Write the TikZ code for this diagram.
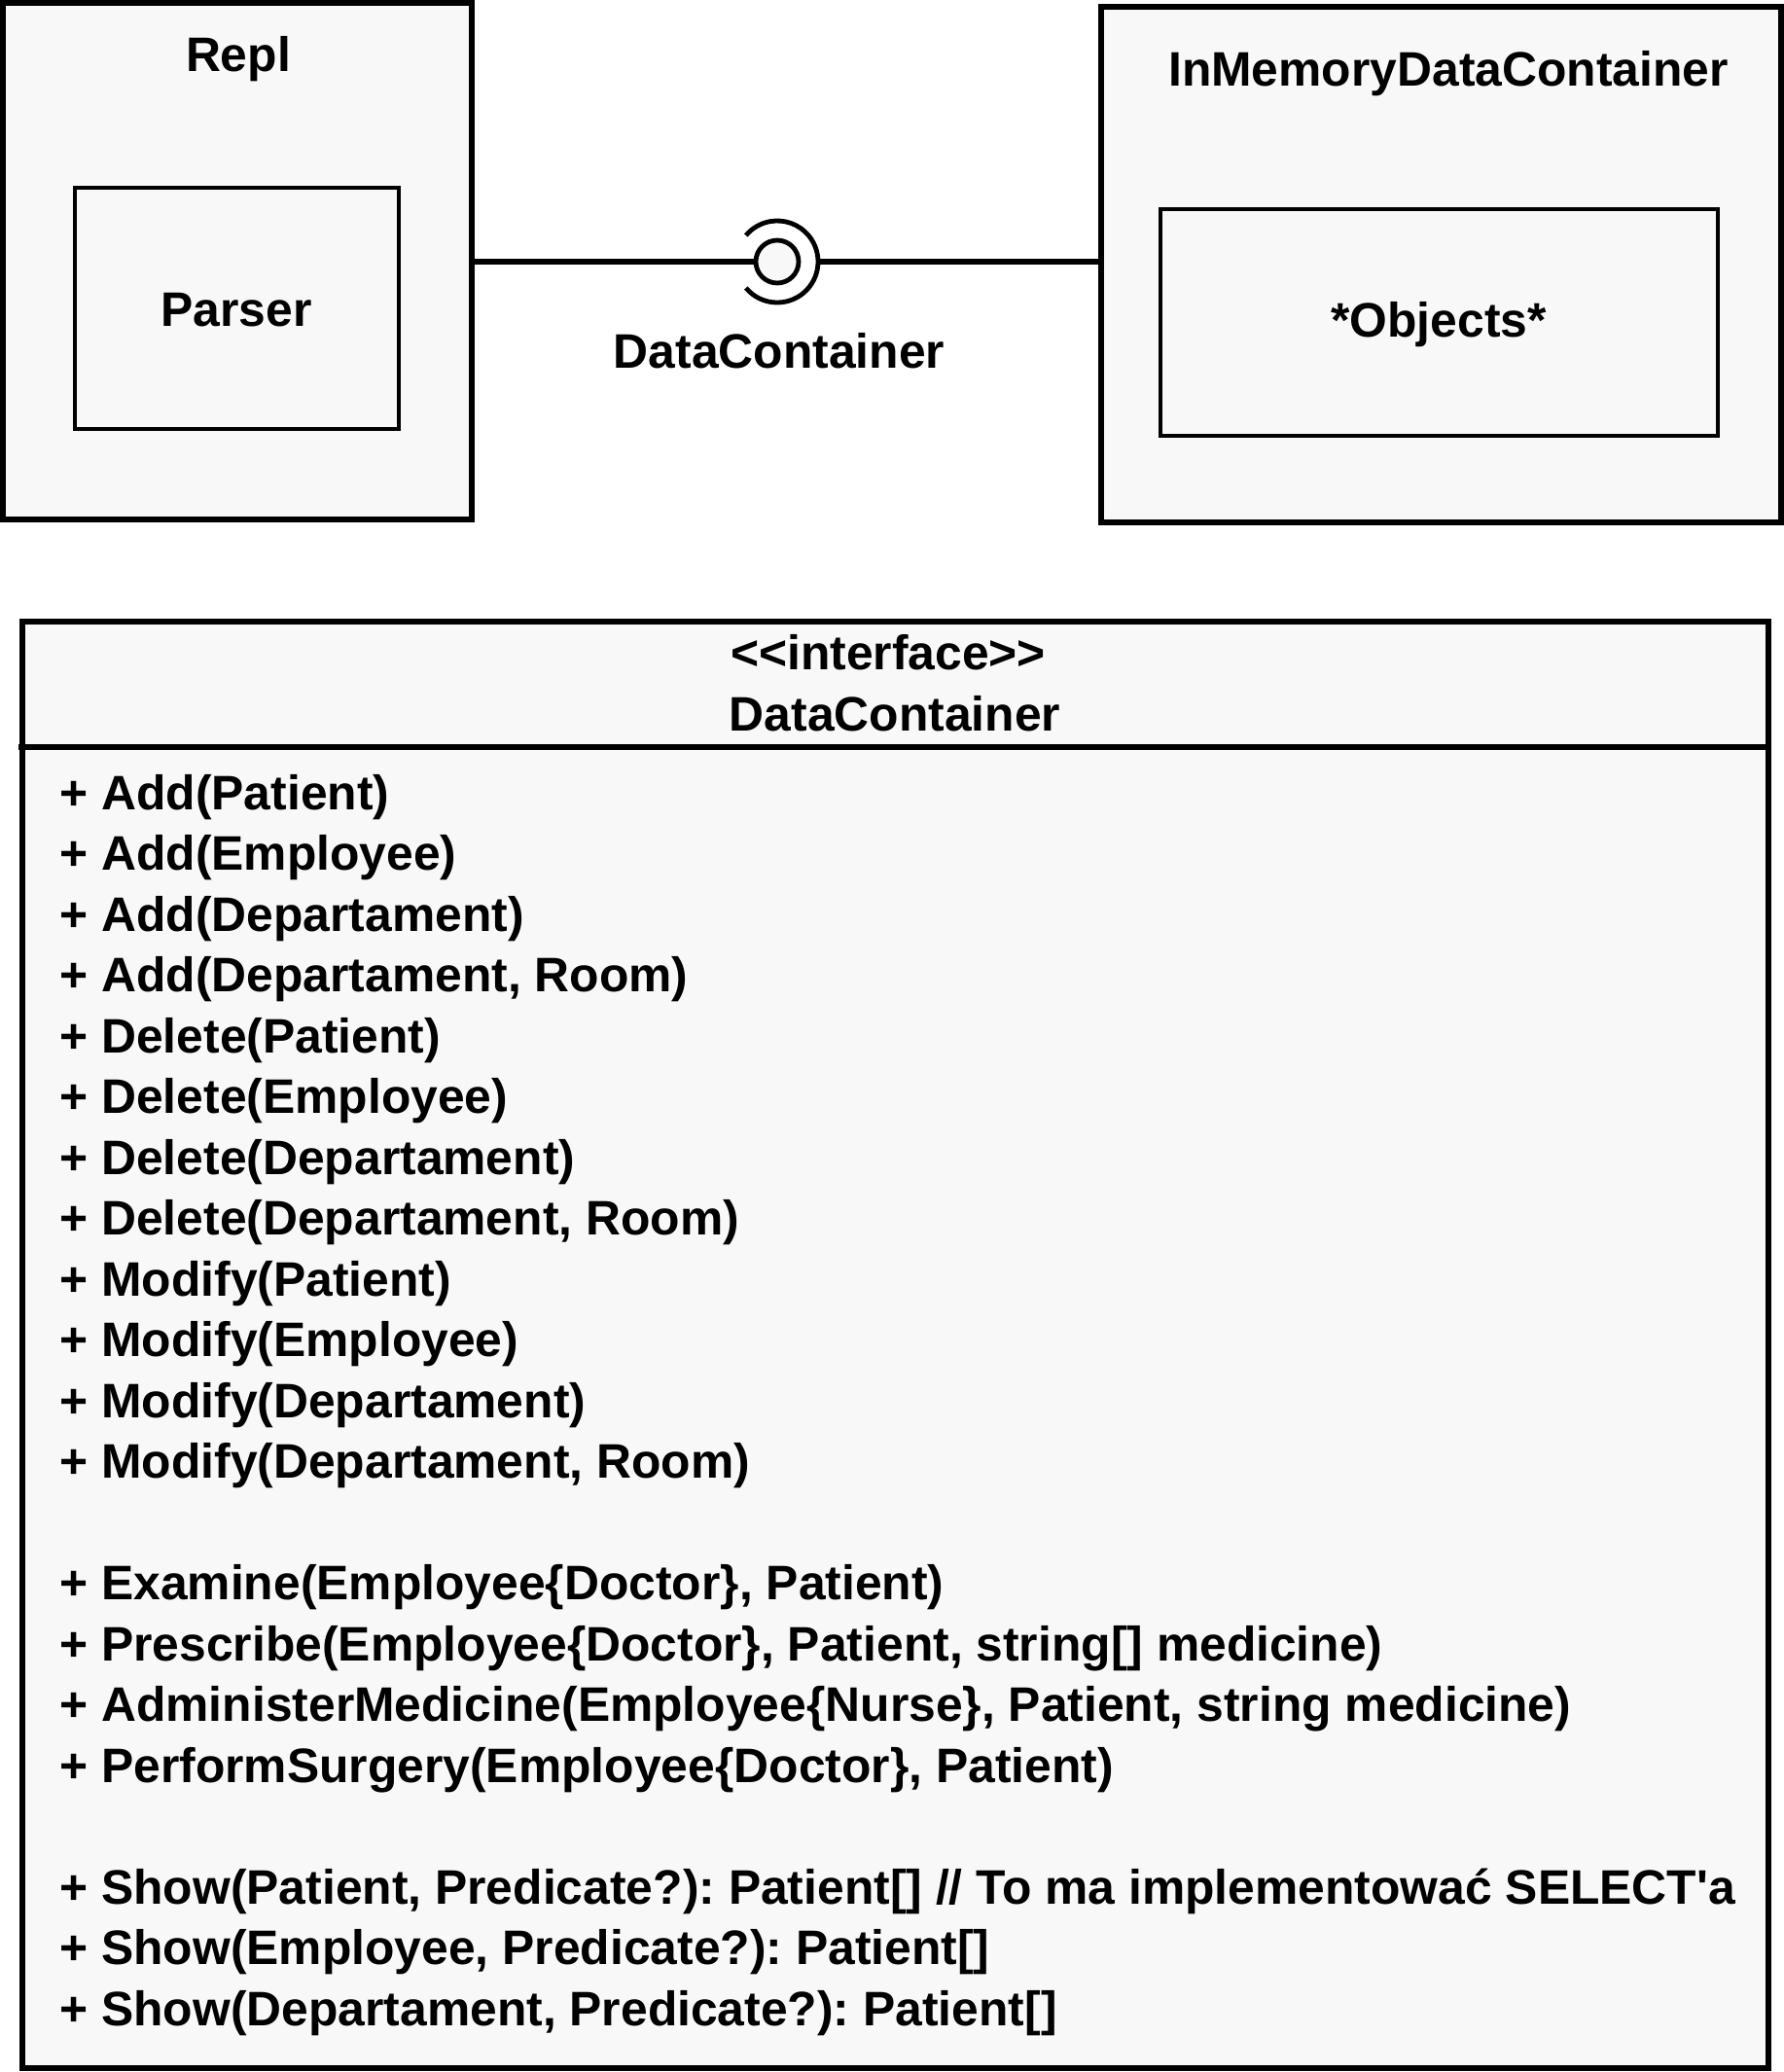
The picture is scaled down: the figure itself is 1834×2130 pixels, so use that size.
\documentclass[tikz,border=0pt]{standalone}
\usepackage{fontspec}
\newfontfamily\lib{Liberation Sans}
\definecolor{boxfill}{HTML}{F8F8F8}
\tikzset{
  x=0.5pt, y=-0.5pt,
  box/.style={draw=black, line width=3pt, fill=boxfill},
  inner/.style={draw=black, line width=2.4pt, fill=boxfill},
  lbl/.style={inner sep=0pt, anchor=base, font=\lib\bfseries\fontsize{24.9}{30}\selectfont},
  meth/.style={inner sep=0pt, anchor=base west, font=\lib\bfseries\fontsize{24.9}{30}\selectfont},
  wire/.style={line width=3pt},
  ring/.style={line width=2.4pt}
}
\begin{document}
\frenchspacing
\begin{tikzpicture}
\useasboundingbox (0,0) rectangle (1834,2130);
\fill[white] (0,0) rectangle (1834,2130);
% component boxes
\draw[box] (3,3) rectangle (485,534);
\coordinate (replE) at (485,269);
\draw[inner] (77,193) rectangle (410,441);
\draw[box] (1132,7) rectangle (1831,537);
\coordinate (imW) at (1132,269);
\draw[inner] (1193,215) rectangle (1766,448);
\node[lbl] (repl) at (245,74) {Repl};
\node[lbl] (parser) at (243,335) {Parser};
\node[lbl] (imdc) at (1489,89) {InMemoryDataContainer};
\node[lbl] (objs) at (1479,346) {*Objects*};
% lollipop
\node[circle, draw=black, ring, fill=boxfill, minimum size=22pt, inner sep=0pt] (ball) at (799,269) {};
\coordinate (sockE) at (841,269);
\draw[wire] (replE) -- (ball.west);
\draw[wire] (sockE) -- (imW);
\draw[ring] (799,269) ++(140:42) arc[start angle=140, end angle=-140, radius=42];
\node[lbl] (dclabel) at (801,378) {DataContainer};
% interface box
\draw[box] (23,639) rectangle (1818,2126);
\draw[line width=3pt] (19,768) -- (1818,768);
\node[lbl] (stereo) at (913,688) {<<interface>>};
\node[lbl] (iname) at (920,751) {DataContainer};
\foreach \k/\t [count=\i] in {
 0/{+ Add(Patient)},
 1/{+ Add(Employee)},
 2/{+ Add(Departament)},
 3/{+ Add(Departament, Room)},
 4/{+ Delete(Patient)},
 5/{+ Delete(Employee)},
 6/{+ Delete(Departament)},
 7/{+ Delete(Departament, Room)},
 8/{+ Modify(Patient)},
 9/{+ Modify(Employee)},
 10/{+ Modify(Departament)},
 11/{+ Modify(Departament, Room)},
 13/{+ Examine(Employee\{Doctor\}, Patient)},
 14/{+ Prescribe(Employee\{Doctor\}, Patient, string[] medicine)},
 15/{+ AdministerMedicine(Employee\{Nurse\}, Patient, string medicine)},
 16/{+ PerformSurgery(Employee\{Doctor\}, Patient)},
 18/{+ Show(Patient, Predicate?): Patient[] // To ma implementować SELECT\textquotesingle a},
 19/{+ Show(Employee, Predicate?): Patient[]},
 20/{+ Show(Departament, Predicate?): Patient[]}
}{
  \node[meth] (m\i) at (61, 832+62.5*\k) {\t};
}
\end{tikzpicture}
\end{document}
